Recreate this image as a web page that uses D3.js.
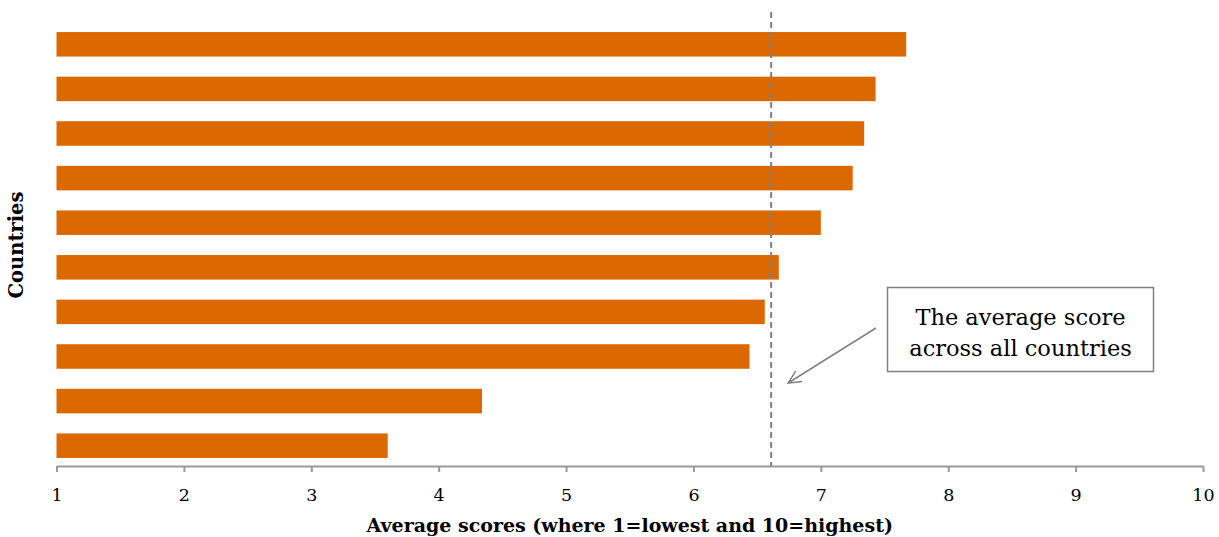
<!DOCTYPE html>
<html>
<head>
<meta charset="utf-8">
<script src="https://cdn.jsdelivr.net/npm/d3@7/dist/d3.min.js"></script>
<style>
  html, body { margin: 0; padding: 0; background: #fff; }
  svg { display: block; }
  text { font-family: Georgia, "DejaVu Serif", serif; fill: #000; }
</style>
</head>
<body>
<svg id="chart" width="1219" height="537"></svg>
<script>
// Country average scores, top to bottom
const countries = ["C1", "C2", "C3", "C4", "C5", "C6", "C7", "C8", "C9", "C10"];
const scores = [7.67, 7.43, 7.34, 7.25, 7.0, 6.67, 6.56, 6.44, 4.34, 3.60];
const overallAverage = 6.61;
const xTicks = [1, 2, 3, 4, 5, 6, 7, 8, 9, 10];
const xTitle = "Average scores (where 1=lowest and 10=highest)";
const yTitle = "Countries";
const noteLines = ["The average score", "across all countries"];

const svg = d3.select("#chart");
const plotLeft = 56.5, plotRight = 1203, plotTop = 22, plotBottom = 468, axisY = 466;

const x = d3.scaleLinear().domain([1, 10]).range([plotLeft, plotRight]);
const y = d3.scaleBand().domain(countries).range([plotTop, plotBottom])
  .paddingInner(0.45).paddingOuter(0.225);

const data = countries.map((c, i) => ({ c, v: scores[i] }));

// bars
svg.append("g").selectAll("rect").data(data).join("rect")
  .attr("x", x(1))
  .attr("y", d => y(d.c))
  .attr("width", d => x(d.v) - x(1))
  .attr("height", y.bandwidth())
  .attr("fill", "#dc6900");

// x axis
const axis = svg.append("g").attr("transform", `translate(0,${axisY})`)
  .call(d3.axisBottom(x).tickValues(xTicks).tickFormat(d3.format("d")).tickSizeInner(6).tickSizeOuter(0).tickPadding(17));
axis.select(".domain").attr("stroke", "#999").attr("stroke-width", 2);
axis.selectAll(".tick line").attr("stroke", "#999").attr("stroke-width", 2);
axis.selectAll(".tick text")
  .attr("font-family", 'Georgia, "DejaVu Serif", serif')
  .attr("font-size", 17.5).attr("fill", "#000");

// average reference line
svg.append("line")
  .attr("x1", x(overallAverage)).attr("x2", x(overallAverage))
  .attr("y1", 12).attr("y2", axisY)
  .attr("stroke", "#808080").attr("stroke-width", 2)
  .attr("stroke-dasharray", "6,4");

// axis titles
svg.append("text")
  .attr("x", (plotLeft + plotRight) / 2).attr("y", 532)
  .attr("text-anchor", "middle")
  .attr("font-size", 19).attr("font-weight", "bold")
  .text(xTitle);

svg.append("text")
  .attr("transform", `translate(23,${(plotTop + plotBottom) / 2}) rotate(-90)`)
  .attr("text-anchor", "middle")
  .attr("font-size", 19.5).attr("font-weight", "bold")
  .text(yTitle);

// annotation box with arrow
const note = svg.append("g");
note.append("rect")
  .attr("x", 887.5).attr("y", 287.5).attr("width", 266).attr("height", 84)
  .attr("fill", "#fff").attr("stroke", "#808080").attr("stroke-width", 1.5);
note.selectAll("text.note").data(noteLines).join("text")
  .attr("class", "note")
  .attr("x", 1020.5).attr("y", (d, i) => 325 + i * 31)
  .attr("text-anchor", "middle")
  .attr("font-size", 22.5)
  .text(d => d);

const ax0 = 876, ay0 = 328, ax1 = x(overallAverage) + 17, ay1 = 383;
note.append("line")
  .attr("x1", ax0).attr("y1", ay0).attr("x2", ax1).attr("y2", ay1)
  .attr("stroke", "#808080").attr("stroke-width", 1.5);
const ang = Math.atan2(ay1 - ay0, ax1 - ax0);
const hl = 14, spread = 0.45;
note.append("path")
  .attr("d", `M${ax1 - hl * Math.cos(ang - spread)},${ay1 - hl * Math.sin(ang - spread)} L${ax1},${ay1} L${ax1 - hl * Math.cos(ang + spread)},${ay1 - hl * Math.sin(ang + spread)}`)
  .attr("fill", "none").attr("stroke", "#808080").attr("stroke-width", 1.5);
</script>
</body>
</html>
